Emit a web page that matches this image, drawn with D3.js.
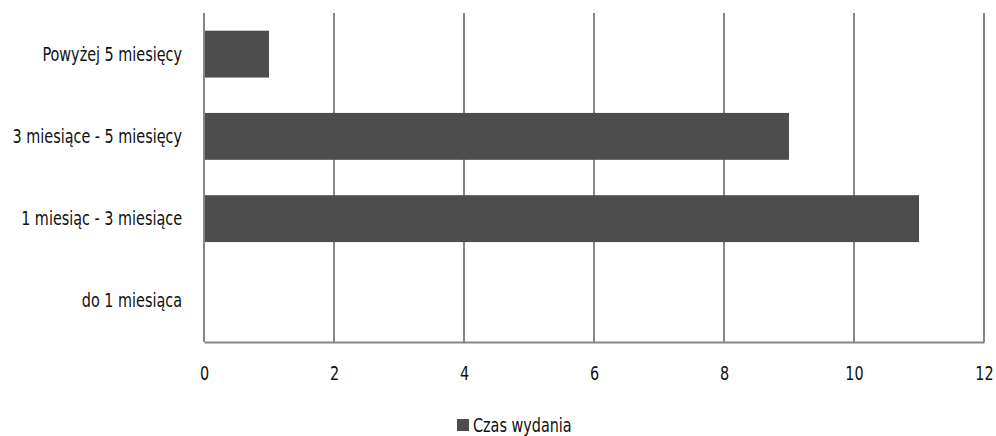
<!DOCTYPE html>
<html>
<head>
<meta charset="utf-8">
<script src="https://cdn.jsdelivr.net/npm/d3@7"></script>
<style>
  body { margin: 0; background: #fff; }
  text { font-family: "Liberation Sans Narrow", "DejaVu Sans Condensed", sans-serif; fill: #111; }
</style>
</head>
<body>
<svg id="chart"></svg>
<script>
const categories = ['Powyżej 5 miesięcy', '3 miesiące - 5 miesięcy', '1 miesiąc - 3 miesiące', 'do 1 miesiąca'];
const values = [1, 9, 11, 0];
const xTicks = [0, 2, 4, 6, 8, 10, 12];
const seriesName = 'Czas wydania';

const width = 996, height = 436;
const margin = { top: 13, right: 12, bottom: 94, left: 204 };
const innerW = width - margin.left - margin.right;
const innerH = height - margin.top - margin.bottom;
const fontSize = 20;
const squeeze = 0.8; // narrow the glyphs, the original uses a condensed face

const svg = d3.select('#chart')
    .attr('width', width)
    .attr('height', height);

const g = svg.append('g')
    .attr('transform', `translate(${margin.left},${margin.top})`);

const x = d3.scaleLinear().domain([0, 12]).range([0, innerW]);
const y = d3.scaleBand().domain(categories).range([0, innerH]).paddingInner(0.43).paddingOuter(0.215);

// vertical gridlines
g.selectAll('.grid')
    .data(xTicks)
    .enter()
    .append('line')
    .attr('x1', d => x(d))
    .attr('x2', d => x(d))
    .attr('y1', 0)
    .attr('y2', innerH)
    .attr('stroke', '#868686')
    .attr('stroke-width', 2);

g.selectAll('.bar')
    .data(values)
    .enter()
    .append('rect')
    .attr('x', x(0) + 1)
    .attr('y', (d, i) => y(categories[i]))
    .attr('width', d => Math.max(0, x(d) - x(0) - 1))
    .attr('height', y.bandwidth())
    .attr('fill', '#4d4d4d');

// bottom axis
const xAxis = g.append('g')
    .attr('transform', `translate(0,${innerH})`)
    .call(d3.axisBottom(x).tickValues(xTicks).tickSize(0).tickPadding(24));
xAxis.select('.domain').attr('stroke', '#868686').attr('stroke-width', 2);
xAxis.selectAll('text')
    .attr('font-size', fontSize)
    .attr('fill', '#111')
    .attr('transform', `scale(${squeeze},1)`)
    .style('font-family', '"Liberation Sans Narrow", "DejaVu Sans Condensed", sans-serif');

// left labels
const yAxis = g.append('g')
    .call(d3.axisLeft(y).tickSize(0).tickPadding(22));
yAxis.select('.domain').remove();
yAxis.selectAll('text')
    .attr('font-size', fontSize)
    .attr('fill', '#111')
    .attr('x', -22 / squeeze)
    .attr('transform', `scale(${squeeze},1)`)
    .style('font-family', '"Liberation Sans Narrow", "DejaVu Sans Condensed", sans-serif');

// legend
const legend = svg.append('g').attr('transform', 'translate(457,419)');
legend.append('rect').attr('x', 0).attr('y', 0).attr('width', 12).attr('height', 12).attr('fill', '#4d4d4d');
legend.append('text')
    .attr('x', 16 / squeeze)
    .attr('y', 13)
    .attr('font-size', fontSize)
    .attr('transform', `scale(${squeeze},1)`)
    .text(seriesName);
</script>
</body>
</html>
